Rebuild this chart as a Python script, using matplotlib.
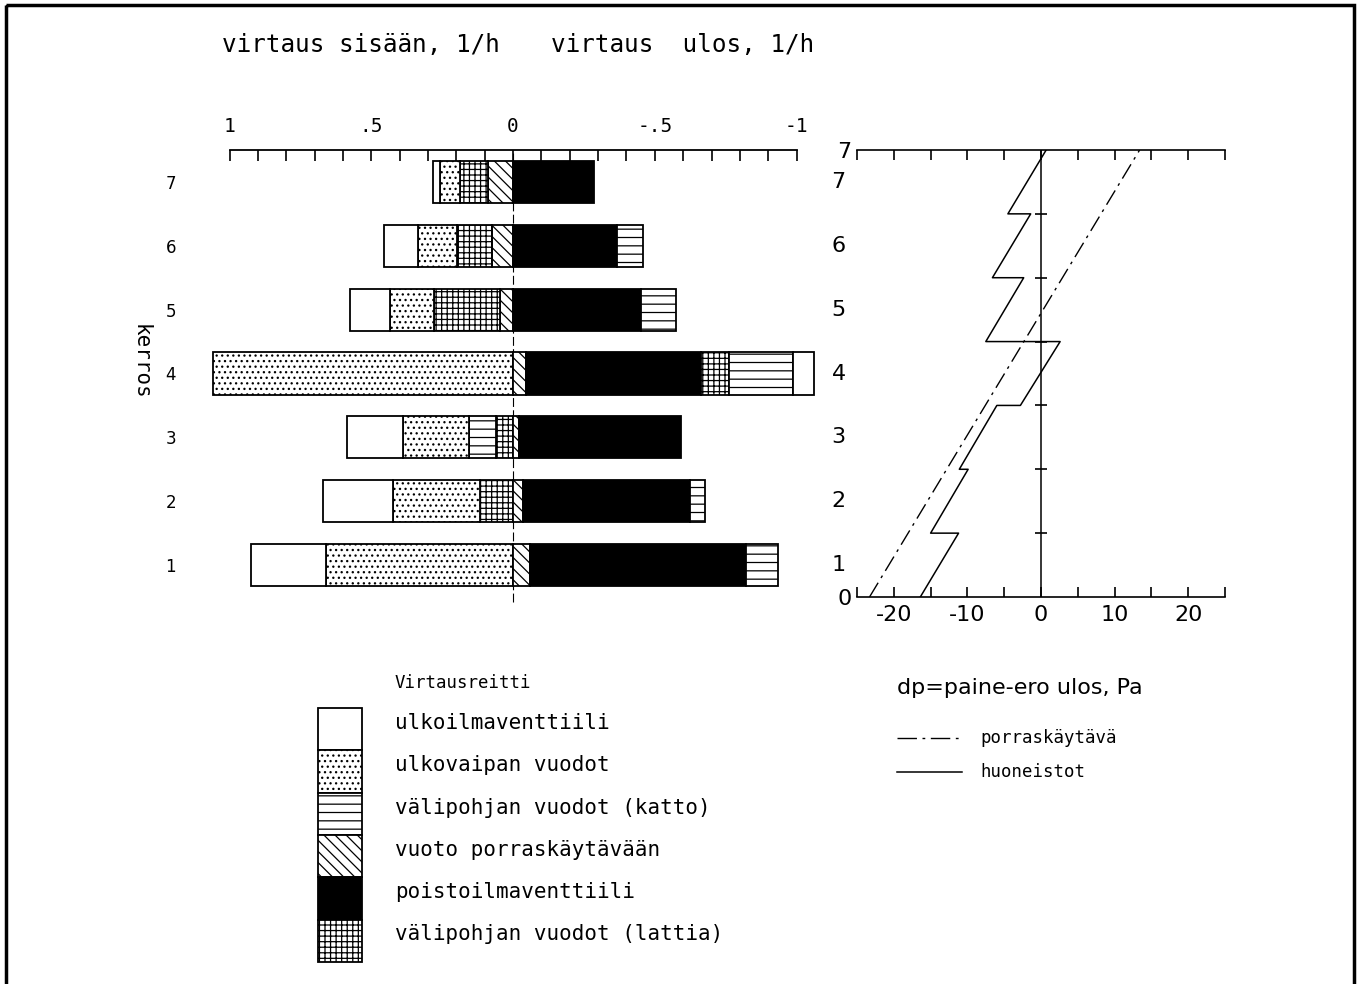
import numpy as np
import matplotlib.pyplot as plt

floors = [1, 2, 3, 4, 5, 6, 7]

# virtaus sisään, 1/h  (kerrokset 1..7)
in_porras = [0, 0, 0, 0, 0.046, 0.073, 0.089]
in_lattia = [0, 0.117, 0.059, 0, 0.233, 0.126, 0.099]
in_katto = [0, 0, 0.095, 0, 0, 0, 0]
in_vaippa = [0.661, 0.305, 0.234, 1.06, 0.155, 0.138, 0.071]
in_venttiili = [0.262, 0.248, 0.198, 0, 0.141, 0.117, 0.022]

# virtaus ulos, 1/h
out_porras = [0.060, 0.035, 0.021, 0.046, 0, 0, 0]
out_poisto = [0.760, 0.590, 0.572, 0.616, 0.450, 0.367, 0.286]
out_lattia = [0, 0, 0, 0.098, 0, 0, 0]
out_katto = [0.114, 0.053, 0, 0.227, 0.126, 0.091, 0]
out_venttiili = [0, 0, 0, 0.075, 0, 0, 0]

# dp = paine-ero ulos, Pa
stair_h = [0, 7]
stair_dp = [-23.3, 13.4]
apt_h = [0, 1, 1, 2, 2, 3, 3, 4, 4, 5, 5, 6, 6, 7]
apt_dp = [-16.4, -11.2, -15.0, -9.9, -11.1, -6.0, -2.8, 2.6, -7.5, -2.35, -6.6, -1.4, -4.5, 0.7]

top_ticks = [1, 0.5, 0, -0.5, -1]
top_labels = ['1', '.5', '0', '-.5', '-1']

legend_keys = ['venttiili', 'vaippa', 'katto', 'porras', 'poisto', 'lattia']
legend_labels = ['ulkoilmaventtiili', 'ulkovaipan vuodot', 'välipohjan vuodot (katto)',
                 'vuoto porraskäytävään', 'poistoilmaventtiili', 'välipohjan vuodot (lattia)']

styles = {
    'venttiili': ('white', ''),
    'vaippa': ('white', '...'),
    'katto': ('white', '--'),
    'porras': ('white', '\\\\\\'),
    'poisto': ('black', ''),
    'lattia': ('white', '+++'),
}

mono = 'DejaVu Sans Mono'
plt.rcParams['hatch.linewidth'] = 0.9

W, H = 1359, 984
fig = plt.figure(figsize=(W / 100, H / 100), dpi=100)

y0 = 1 - 597 / H
yh = 447 / H


def stack(ax, series, sign):
    y = np.array(floors) - 0.5
    left = np.zeros(len(floors))
    for key, vals in series:
        v = np.array(vals) * sign
        fc, h = styles[key]
        m = v != 0
        ax.barh(y[m], v[m], left=left[m], height=0.66, color=fc, hatch=h,
                edgecolor='black', linewidth=1.3)
        left += v


# vasen: virtaukset
ax = fig.add_axes([201.2 / W, y0, 623.7 / W, yh])
stack(ax, [('porras', in_porras), ('lattia', in_lattia), ('katto', in_katto),
           ('vaippa', in_vaippa), ('venttiili', in_venttiili)], 1)
stack(ax, [('porras', out_porras), ('poisto', out_poisto), ('lattia', out_lattia),
           ('katto', out_katto), ('venttiili', out_venttiili)], -1)
ax.set_xlim(1.1, -1.1)
ax.set_ylim(0, 7)
ax.plot([0, 0], [-0.08, 7], color='black', lw=0.8, ls=(0, (8, 3)), clip_on=False, zorder=0)
for s in ['left', 'right', 'bottom']:
    ax.spines[s].set_visible(False)
ax.spines['top'].set_bounds(-1, 1)
ax.spines['top'].set_linewidth(1.3)
ax.xaxis.tick_top()
ax.set_xticks(top_ticks)
ax.set_xticklabels(top_labels, fontfamily=mono, fontsize=14)
ax.set_xticks(np.round(np.arange(-1, 1.01, 0.1), 2), minor=True)
ax.tick_params(axis='x', which='both', direction='in', length=8, width=1.2, pad=10)
ax.set_yticks(np.array(floors) - 0.5)
ax.set_yticklabels([str(f) for f in floors], fontsize=12)
ax.tick_params(axis='y', length=0, pad=18)
ax.patch.set_alpha(0)

# oikea: paine-ero
ax2 = fig.add_axes([857 / W, y0, 368 / W, yh])
ax2.plot(stair_dp, stair_h, color='black', lw=1.0, ls=(0, (12, 4, 2, 4)))
ax2.plot(apt_dp, apt_h, color='black', lw=1.1)
ax2.plot([0, 0], [0, 7], color='black', lw=1.1)
ax2.plot([0] * 6, [1, 2, 3, 4, 5, 6], ls='none', marker='_', ms=9, mew=1.2, color='black')
ax2.set_xlim(-25, 25)
ax2.set_ylim(0, 7)
ax2.spines['left'].set_visible(False)
ax2.spines['right'].set_visible(False)
ax2.spines['top'].set_linewidth(1.2)
ax2.spines['bottom'].set_linewidth(1.2)
ax2.set_xticks(np.arange(-25, 26, 5))
ax2.set_xticklabels(['' if v % 10 else str(v) for v in range(-25, 26, 5)], fontsize=16)
ax2.tick_params(axis='x', which='both', direction='in', length=7, width=1.2, top=True, pad=6)
ax2.set_yticks([0, 7])
ax2.set_yticklabels(['0', '7'], fontsize=16)
ax2.tick_params(axis='y', length=0, pad=4)
for f in floors:
    ax2.text(-27.5, f - 0.5, str(f), fontsize=16, ha='center', va='center', clip_on=False)
ax2.patch.set_alpha(0)

# tekstit, selitteet ja kehys
ov = fig.add_axes([0, 0, 1, 1])
ov.set_xlim(0, W)
ov.set_ylim(H, 0)
ov.axis('off')
ov.add_patch(plt.Rectangle((6, 5), 1348, 990, fill=False, lw=2.5, color='black', clip_on=False))
ov.text(222, 45, 'virtaus sisään, 1/h', fontfamily=mono, fontsize=17.5, va='center')
ov.text(551, 45, 'virtaus  ulos, 1/h', fontfamily=mono, fontsize=17.5, va='center')
ov.text(141, 362, 'kerros', fontfamily=mono, fontsize=15, rotation=-90, ha='center', va='center')

ov.text(395, 683, 'Virtausreitti', fontfamily=mono, fontsize=12.5, va='center')
box_top = 708
box_h = 42.3
for i, (key, lab) in enumerate(zip(legend_keys, legend_labels)):
    fc, h = styles[key]
    ov.add_patch(plt.Rectangle((318, box_top + i * box_h), 44, box_h, facecolor=fc,
                               hatch=h, edgecolor='black', lw=1.3))
    ov.text(395, box_top + i * box_h + 15, lab, fontfamily=mono, fontsize=15, va='center')

ov.text(897, 688, 'dp=paine-ero ulos, Pa', fontsize=16, va='center')
ov.plot([897, 962], [738, 738], color='black', lw=1.0, ls=(0, (14, 4, 2, 4)))
ov.plot([897, 962], [772, 772], color='black', lw=1.1)
ov.text(980, 738, 'porraskäytävä', fontfamily=mono, fontsize=12.5, va='center')
ov.text(980, 772, 'huoneistot', fontfamily=mono, fontsize=12.5, va='center')

fig.savefig('out.png', dpi=100)
